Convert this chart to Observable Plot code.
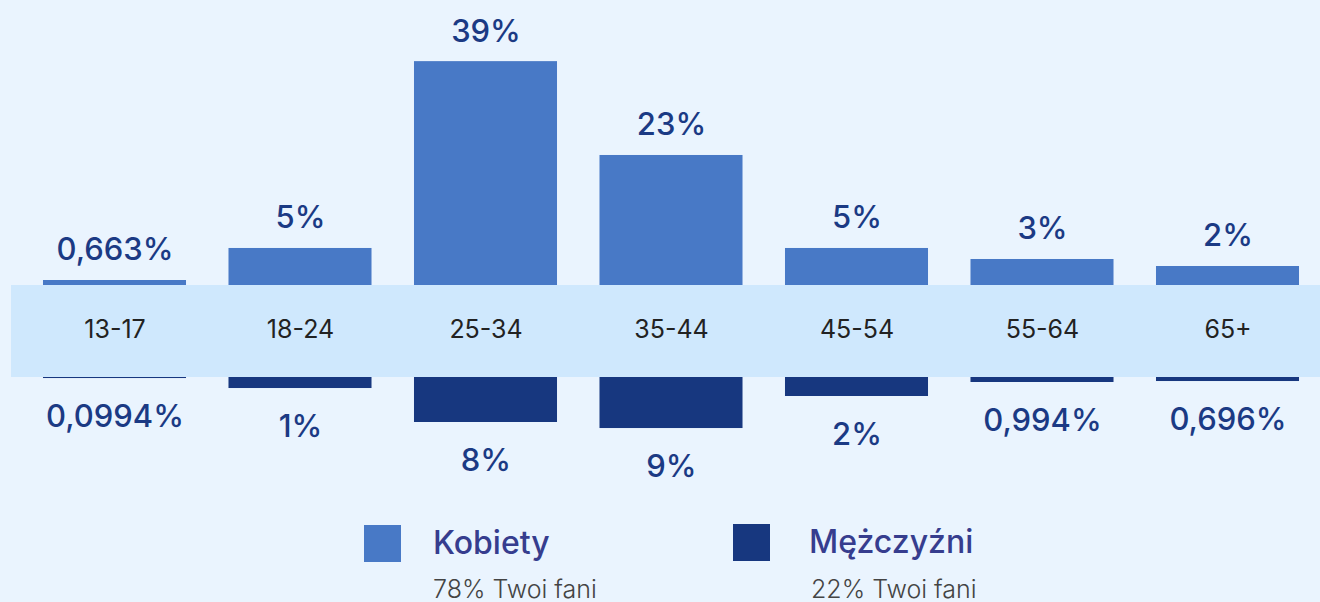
<!DOCTYPE html>
<html>
<head>
<meta charset="utf-8">
<script src="https://cdn.jsdelivr.net/npm/d3@7"></script>
<script src="https://cdn.jsdelivr.net/npm/@observablehq/plot@0.6"></script>
<style>
  html, body { margin: 0; padding: 0; background: #eaf4fe; }
  body { width: 1320px; height: 602px; overflow: hidden; position: relative; font-family: Inter, "Noto Sans", sans-serif; }
  #topchart { position: absolute; left: 0; top: 0; }
  #bandchart { position: absolute; left: 0; top: 285px; }
  #bandbg { position: absolute; left: 11px; top: 285px; width: 1309px; height: 92px; background: #cfe8fd; }
  #bottomchart { position: absolute; left: 0; top: 377px; }
  .sw { position: absolute; width: 37px; height: 37px; }
  .lt { position: absolute; font-size: 32px; font-weight: 500; color: #363d8e; line-height: 1; white-space: nowrap; }
  .ls { position: absolute; font-size: 25px; font-weight: 300; color: #444; line-height: 1; white-space: nowrap; }
</style>
</head>
<body>
<div id="bandbg"></div>
<div id="topchart"></div>
<div id="bandchart"></div>
<div id="bottomchart"></div>
<div class="sw" style="left:364px; top:525px; background:#4879c6;"></div>
<div class="lt" style="left:433px; top:527px;">Kobiety</div>
<div class="ls" style="left:433px; top:577px;">78% Twoi fani</div>
<div class="sw" style="left:733px; top:524px; background:#17377f;"></div>
<div class="lt" style="left:809px; top:526px;">Mężczyźni</div>
<div class="ls" style="left:811px; top:577px;">22% Twoi fani</div>
<script>
const ages = ["13-17", "18-24", "25-34", "35-44", "45-54", "55-64", "65+"];
const womenValues = [0.87, 6.45, 39.0, 22.65, 6.45, 4.53, 3.31];
const womenLabels = ["0,663%", "5%", "39%", "23%", "5%", "3%", "2%"];
const menValues = [0.18, 1.92, 7.84, 8.89, 3.31, 0.87, 0.7];
const menLabels = ["0,0994%", "1%", "8%", "9%", "2%", "0,994%", "0,696%"];

const women = ages.map((a, i) => ({age: a, v: womenValues[i], label: womenLabels[i]}));
const men = ages.map((a, i) => ({age: a, v: menValues[i], label: menLabels[i]}));

const xScale = {domain: ages, range: [21.75, 1320.25], paddingInner: 0.229, paddingOuter: 0.1145, round: false, axis: null};
const font = "Inter, 'Noto Sans', sans-serif";
const labelColor = "#1b3a84";

const topPlot = Plot.plot({
  width: 1320, height: 285,
  marginTop: 0, marginBottom: 0, marginLeft: 0, marginRight: 0,
  style: {background: "transparent", fontFamily: font},
  x: xScale,
  y: {domain: [0, 49.65], range: [285, 0], axis: null},
  marks: [
    Plot.barY(women, {x: "age", y: "v", fill: "#4879c6"}),
    Plot.text(women, {x: "age", y: "v", text: "label", dy: -30, fontSize: 31, fontWeight: 500, fill: labelColor})
  ]
});
document.getElementById("topchart").appendChild(topPlot);

const bandPlot = Plot.plot({
  width: 1320, height: 92,
  marginTop: 0, marginBottom: 0, marginLeft: 0, marginRight: 0,
  style: {background: "transparent", fontFamily: font},
  x: xScale,
  marks: [
    Plot.text(ages, {x: d => d, text: d => d, frameAnchor: "middle", dy: -2, fontSize: 25, fill: "#222"})
  ]
});
document.getElementById("bandchart").appendChild(bandPlot);

const bottomPlot = Plot.plot({
  width: 1320, height: 147,
  marginTop: 0, marginBottom: 0, marginLeft: 0, marginRight: 0,
  style: {background: "transparent", fontFamily: font},
  x: xScale,
  y: {domain: [0, 25.61], range: [0, 147], axis: null},
  marks: [
    Plot.barY(men, {x: "age", y: "v", fill: "#17377f"}),
    Plot.text(men, {x: "age", y: "v", text: "label", dy: 39, fontSize: 31, fontWeight: 500, fill: labelColor})
  ]
});
document.getElementById("bottomchart").appendChild(bottomPlot);
</script>
</body>
</html>
